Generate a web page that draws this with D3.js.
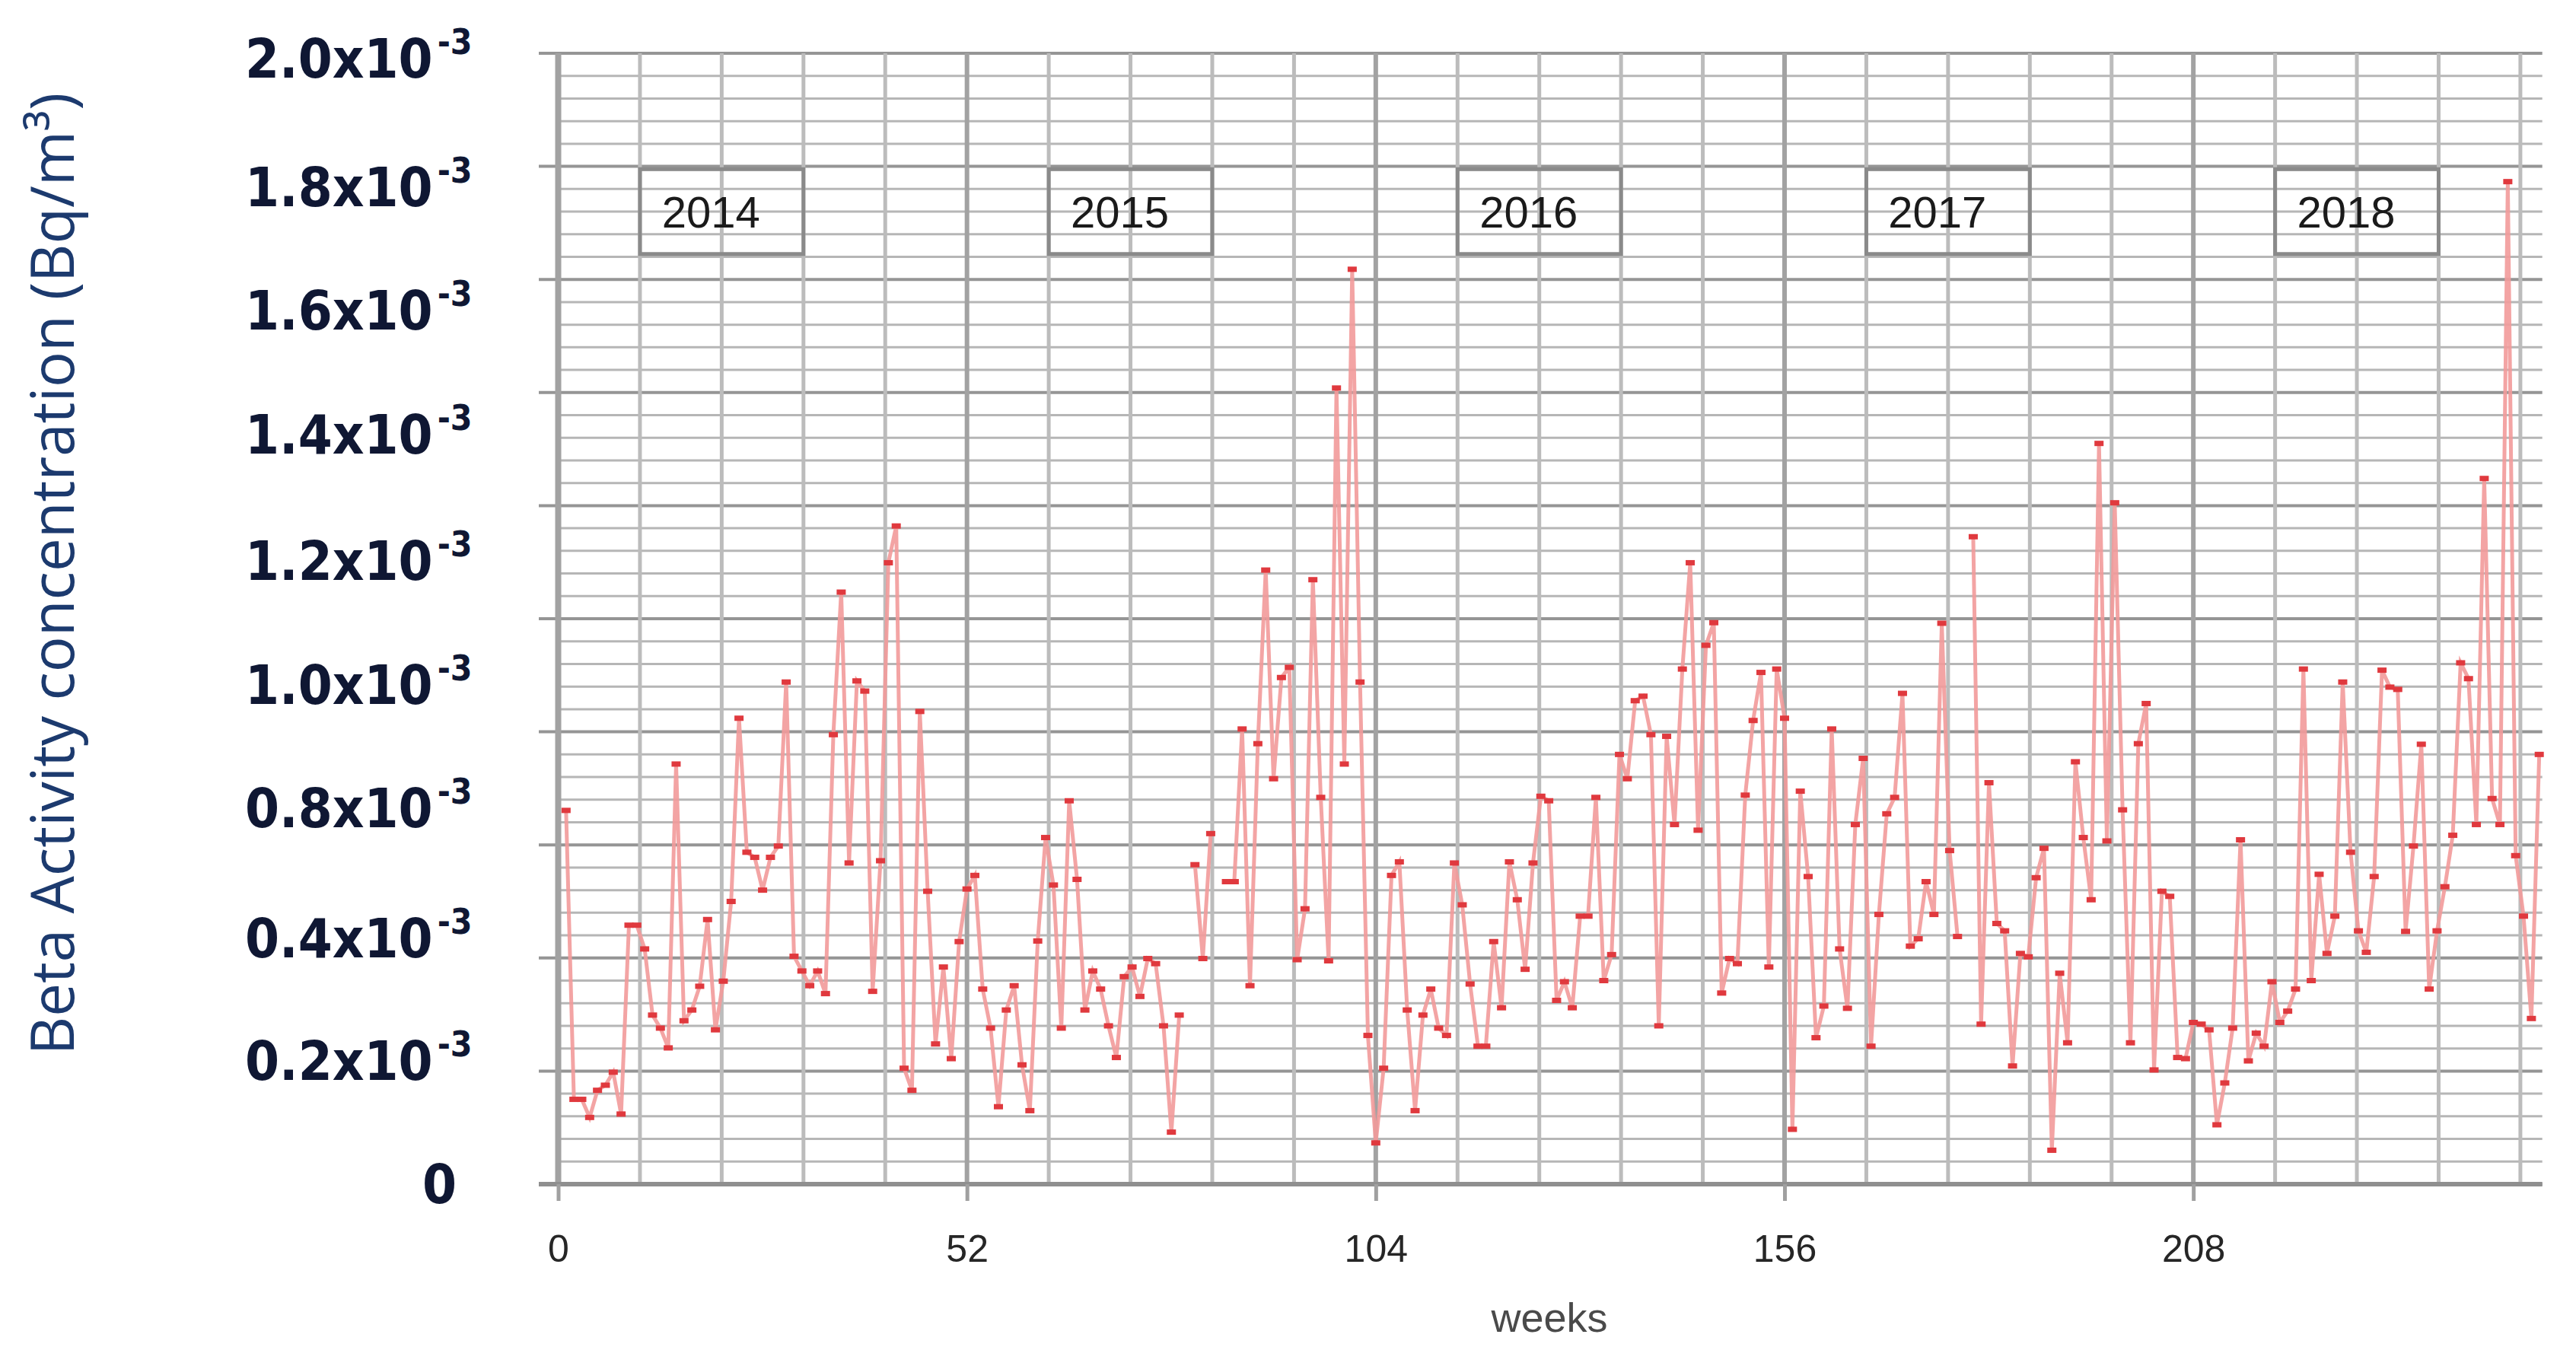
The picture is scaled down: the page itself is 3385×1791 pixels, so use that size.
<!DOCTYPE html>
<html>
<head>
<meta charset="utf-8">
<title>Beta activity</title>
<script src="https://cdn.jsdelivr.net/npm/d3@7/dist/d3.min.js"></script>
<style>
  html, body { margin: 0; padding: 0; background: #fff; }
  svg { display: block; }
</style>
</head>
<body>
<svg class="chart"></svg>
<script>
// weekly beta activity, in units of 1e-3 Bq/m3, week 1 .. 252 (null = no sample)
const values = [
  0.661, 0.150, 0.150, 0.118, 0.166, 0.175, 0.198, 0.124, 0.458, 0.458,
  0.416, 0.299, 0.276, 0.241, 0.743, 0.289, 0.308, 0.350, 0.468, 0.273,
  0.359, 0.500, 0.824, 0.587, 0.578, 0.520, 0.578, 0.598, 0.888, 0.403,
  0.377, 0.351, 0.377, 0.337, 0.795, 1.047, 0.568, 0.890, 0.872, 0.341,
  0.572, 1.099, 1.164, 0.205, 0.166, 0.836, 0.518, 0.248, 0.384, 0.222,
  0.429, 0.522, 0.546, 0.345, 0.276, 0.137, 0.308, 0.351, 0.211, 0.130,
  0.430, 0.613, 0.529, 0.276, 0.678, 0.539, 0.308, 0.377, 0.345, 0.280,
  0.224, 0.367, 0.384, 0.332, 0.399, 0.390, 0.280, 0.092, 0.299, null,
  0.565, 0.399, 0.620, null, 0.535, 0.535, 0.805, 0.351, 0.779, 1.086,
  0.717, 0.896, 0.914, 0.397, 0.487, 1.069, 0.684, 0.395, 1.408, 0.743,
  1.618, 0.888, 0.263, 0.073, 0.205, 0.546, 0.570, 0.308, 0.130, 0.299,
  0.345, 0.276, 0.263, 0.568, 0.494, 0.354, 0.244, 0.244, 0.429, 0.312,
  0.570, 0.503, 0.380, 0.568, 0.686, 0.678, 0.325, 0.358, 0.312, 0.474,
  0.474, 0.684, 0.360, 0.406, 0.760, 0.717, 0.855, 0.863, 0.795, 0.280,
  0.792, 0.636, 0.911, 1.099, 0.626, 0.953, 0.993, 0.338, 0.399, 0.390,
  0.688, 0.820, 0.905, 0.384, 0.911, 0.824, 0.097, 0.695, 0.544, 0.259,
  0.315, 0.805, 0.416, 0.311, 0.636, 0.753, 0.244, 0.477, 0.655, 0.684,
  0.868, 0.421, 0.434, 0.535, 0.477, 0.992, 0.590, 0.438, null, 1.145,
  0.283, 0.710, 0.461, 0.448, 0.209, 0.408, 0.402, 0.542, 0.594, 0.060,
  0.373, 0.250, 0.747, 0.613, 0.503, 1.310, 0.607, 1.205, 0.662, 0.250,
  0.779, 0.850, 0.202, 0.518, 0.509, 0.224, 0.222, 0.286, 0.283, 0.273,
  0.105, 0.179, 0.276, 0.609, 0.218, 0.267, 0.244, 0.358, 0.286, 0.306,
  0.345, 0.911, 0.360, 0.548, 0.408, 0.474, 0.888, 0.587, 0.448, 0.410,
  0.544, 0.909, 0.879, 0.875, 0.447, 0.598, 0.778, 0.345, 0.448, 0.526,
  0.617, 0.922, 0.894, 0.636, 1.248, 0.682, 0.636, 1.773, 0.581, 0.474,
  0.293, 0.760
]
const years = ["2014", "2015", "2016", "2017", "2018"]
const xTicks = [0, 52, 104, 156, 208]
// y labels as printed, and the level (1e-3) at which each one sits in the figure
const yLabels = ["2.0x10", "1.8x10", "1.6x10", "1.4x10", "1.2x10", "1.0x10", "0.8x10", "0.4x10", "0.2x10", "0"]
const yLabelAt = [1.992, 1.764, 1.546, 1.327, 1.103, 0.884, 0.666, 0.436, 0.219, 0.001]

const W = 3385, H = 1791
const svg = d3.select(".chart").attr("width", W).attr("height", H)
svg.append("rect").attr("width", W).attr("height", H).attr("fill", "#fff")

const x = d3.scaleLinear().domain([0, 252]).range([733.5, 3336.7])
const y = d3.scaleLinear().domain([0, 2.0]).range([1556, 70])

const data = values.map((v, i) => ({ week: i + 1, v: v }))
const xStep = 52 / 5

// horizontal grid
const hLines = d3.range(0, 51).map(i => i * 0.04)
svg.append("g")
    .selectAll("line")
    .data(hLines)
    .enter()
    .append("line")
    .attr("x1", (d, i) => i % 5 === 0 ? 708 : x(0))
    .attr("x2", x(252) + 4)
    .attr("y1", d => y(d))
    .attr("y2", d => y(d))
    .attr("stroke", (d, i) => i % 5 === 0 ? "#959595" : "#b6b6b6")
    .attr("stroke-width", (d, i) => i % 5 === 0 ? 4 : 3)

// vertical grid
const vLines = d3.range(0, 25).map(i => i * xStep)
svg.append("g")
    .selectAll("line")
    .data(vLines)
    .enter()
    .append("line")
    .attr("x1", d => x(d))
    .attr("x2", d => x(d))
    .attr("y1", y(2.0))
    .attr("y2", y(0))
    .attr("stroke", (d, i) => i % 5 === 0 ? "#a2a2a2" : "#bcbcbc")
    .attr("stroke-width", (d, i) => i === 0 ? 8 : (i % 5 === 0 ? 6 : 5))

// x axis
const xAxis = svg.append("g")
    .attr("transform", `translate(0, ${y(0)})`)
    .call(d3.axisBottom(x).tickValues(xTicks).tickSizeInner(22).tickSizeOuter(0).tickPadding(44))
xAxis.select(".domain").attr("stroke", "#8f8f8f").attr("stroke-width", 6)
    .attr("d", `M708,0H${x(252) + 4}`)
xAxis.selectAll(".tick line").attr("stroke", "#a0a0a0").attr("stroke-width", 5)
xAxis.selectAll(".tick text")
    .attr("fill", "#262626")
    .style("font-family", "'Liberation Sans', Arial, sans-serif")
    .style("font-size", "50px")

svg.append("text")
    .attr("x", 2036)
    .attr("y", 1750)
    .attr("text-anchor", "middle")
    .attr("fill", "#4a4a4a")
    .style("font-family", "'Liberation Sans', Arial, sans-serif")
    .style("font-size", "54px")
    .text("weeks")

// y labels
const yl = svg.append("g")
    .selectAll("text")
    .data(yLabels)
    .enter()
    .append("text")
    .attr("x", (d, i) => d === "0" ? 600 : 322)
    .attr("y", (d, i) => y(yLabelAt[i]) + 26)
    .attr("text-anchor", d => d === "0" ? "end" : "start")
    .attr("fill", "#0f1733")
    .style("font-family", "'DejaVu Sans', Verdana, sans-serif")
    .style("font-stretch", "condensed")
    .style("font-weight", "bold")
    .style("font-size", "72px")
yl.append("tspan").text(d => d)
yl.filter(d => d !== "0")
    .append("tspan")
    .attr("dx", 6)
    .attr("dy", -31)
    .style("font-size", "46px")
    .text("-3")

svg.append("text")
    .attr("transform", `translate(97, 754) rotate(-90)`)
    .attr("text-anchor", "middle")
    .attr("fill", "#1c3a6e")
    .style("font-family", "'Open Sans', 'Noto Sans', sans-serif")
    .style("font-size", "78px")
    .text("Beta Activity concentration (Bq/m³)")

// year boxes
const box = svg.append("g")
    .selectAll("g")
    .data(years)
    .enter()
    .append("g")
box.append("rect")
    .attr("x", (d, i) => x(52 * i + xStep))
    .attr("y", y(1.795))
    .attr("width", x(2 * xStep) - x(0))
    .attr("height", y(1.645) - y(1.795))
    .attr("fill", "none")
    .attr("stroke", "#8a8a8a")
    .attr("stroke-width", 5)
box.append("text")
    .attr("x", (d, i) => x(52 * i + 2 * xStep) - 14)
    .attr("y", 299)
    .attr("text-anchor", "middle")
    .attr("fill", "#1a1a1a")
    .style("font-family", "'Liberation Sans', Arial, sans-serif")
    .style("font-size", "58px")
    .text(d => d)

// series
const line = d3.line()
    .defined(d => d.v !== null)
    .x(d => x(d.week))
    .y(d => y(d.v))
svg.append("path")
    .datum(data)
    .attr("d", line)
    .attr("fill", "none")
    .attr("stroke", "#f29a9a")
    .attr("stroke-width", 5)
    .attr("stroke-opacity", 0.9)

svg.append("g")
    .selectAll("rect")
    .data(data.filter(d => d.v !== null))
    .enter()
    .append("rect")
    .attr("x", d => x(d.week) - 6)
    .attr("y", d => y(d.v) - 3.5)
    .attr("width", 12)
    .attr("height", 7)
    .attr("fill", "#e0393e")
</script>
</body>
</html>
